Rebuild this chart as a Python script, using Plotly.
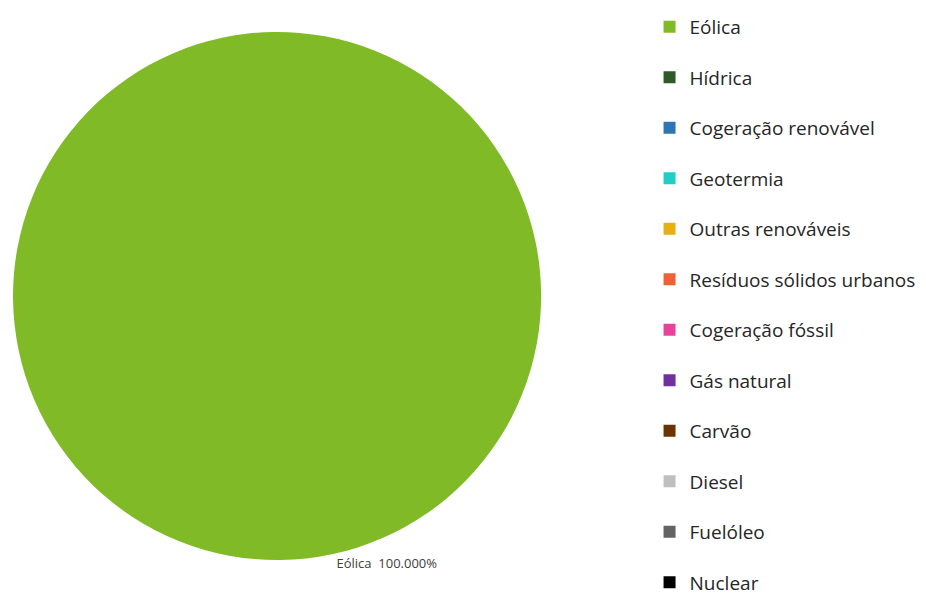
import plotly.graph_objects as go

LABELS = ["Eólica", "Hídrica", "Cogeração renovável", "Geotermia", "Outras renováveis",
          "Resíduos sólidos urbanos", "Cogeração fóssil", "Gás natural", "Carvão",
          "Diesel", "Fuelóleo", "Nuclear"]
VALUES = [100, 0, 0, 0, 0, 0, 0, 0, 0, 0, 0, 0]
COLORS = ["#80ba27", "#2e5a27", "#2e75b6", "#1fcfc6", "#e6b012", "#ef6136",
          "#e8439a", "#7030a0", "#6b3300", "#bfbfbf", "#636363", "#000000"]

FONT = "'Open Sans', sans-serif"
TEXT = "#404040"

# only non-empty slices get a data label
templates = ["%{label}  %{percent:.3%}" if v > 0 else "" for v in VALUES]

fig = go.Figure()
fig.add_trace(go.Pie(
    labels=LABELS, values=VALUES, sort=False, direction="clockwise", rotation=-12,
    marker=dict(colors=COLORS),
    texttemplate=templates, textposition="outside",
    textfont=dict(family=FONT, size=13, color=TEXT),
    domain=dict(x=[0, 531 / 926], y=[39 / 593, 571 / 593]),
    showlegend=False, hoverinfo="label+percent",
))

# legend entries (one per category, spaced like the original)
for i, (lab, col) in enumerate(zip(LABELS, COLORS)):
    fig.add_trace(go.Scatter(
        x=[None], y=[None], mode="markers", name=lab, legendgroup=f"g{i}",
        marker=dict(symbol="square", size=10, color=col),
    ))

fig.update_layout(
    width=926, height=593,
    paper_bgcolor="white", plot_bgcolor="white",
    margin=dict(l=0, r=0, t=0, b=0),
    font=dict(family=FONT, color=TEXT, size=19),
    xaxis=dict(visible=False), yaxis=dict(visible=False),
    legend=dict(x=640 / 926, y=1.0, xanchor="left", yanchor="top",
                tracegroupgap=22.8, itemsizing="constant", maxheight=800,
                font=dict(family=FONT, size=19, color="#262626")),
)

fig.write_html("out.html")
